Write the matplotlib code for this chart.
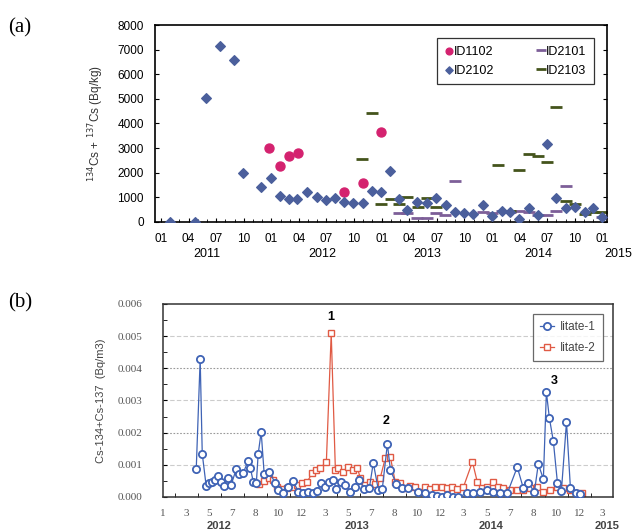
import matplotlib
matplotlib.use("Agg")
import matplotlib.pyplot as plt
import matplotlib.transforms as mtransforms
import numpy as np

### Data, panel (a): months counted from Jan 2011 (0 = 2011-01)

id1102_m = [11.8, 12.9, 13.9, 14.9, 19.9, 22.0, 23.9]
id1102_v = [3010, 2280, 2680, 2800, 1220, 1590, 3660]

id2102_m = [1.0, 3.7, 4.9, 6.4, 7.9, 8.9, 10.9, 12.0, 12.9, 13.9, 14.8, 15.9,
            17.0, 17.9, 18.9, 19.9, 20.9, 22.0, 22.9, 23.9, 24.9, 25.9, 26.8,
            27.8, 28.9, 29.9, 31.0, 32.0, 33.0, 33.9, 35.0, 36.0, 37.1, 38.0,
            38.9, 40.0, 41.0, 42.0, 43.0, 44.0, 45.0, 46.1, 47.0, 48.0]
id2102_v = [0, 0, 5050, 7150, 6580, 2000, 1420, 1790, 1060, 930, 930, 1220,
            1020, 890, 980, 800, 780, 770, 1260, 1210, 2080, 940, 490,
            810, 770, 980, 690, 410, 370, 330, 690, 240, 450, 410,
            120, 570, 280, 3170, 980, 570, 610, 410, 570, 200]

id2101_m = [25.9, 26.8, 27.8, 28.9, 29.9, 30.9, 32.0, 35.0, 36.0, 37.1, 37.9,
            38.9, 40.0, 41.0, 42.0, 43.0, 44.0, 48.0]
id2101_v = [370, 370, 160, 160, 370, 280, 1670, 410, 370, 450, 410,
            450, 410, 280, 280, 450, 1460, 200]

id2103_m = [21.9, 22.9, 23.9, 25.0, 25.9, 26.8, 27.9, 28.9, 29.9, 36.6, 37.9,
            38.9, 40.0, 41.0, 42.0, 43.0, 44.0, 45.0, 46.1, 47.0, 48.0]
id2103_v = [2560, 4430, 730, 940, 730, 1020, 610, 980, 610, 2320, 450,
            2110, 2760, 2680, 2440, 4680, 850, 730, 330, 410, 410]

a_month_labels = ["01", "04", "07", "10"]
a_years = ["2011", "2012", "2013", "2014", "2015"]

### Data, panel (b): position along the category axis (1 unit = 1 label)

b_tick_labels = ["1", "3", "5", "7", "8", "10", "12", "3", "5", "7", "8", "10",
                 "12", "3", "5", "7", "8", "10", "12", "3"]
b_years = ["2012", "2013", "2014", "2015"]

iitate1_x = [1.43, 1.60, 1.69, 1.86, 1.99, 2.12, 2.25, 2.38, 2.51, 2.64, 2.81,
             2.94, 3.16, 3.29, 3.46, 3.68, 3.77, 3.90, 4.03, 4.11, 4.24, 4.37,
             4.59, 4.85, 4.98, 5.19, 5.41, 5.63, 5.84, 6.06, 6.28, 6.49, 6.67,
             6.84, 7.01, 7.19, 7.36, 7.49, 7.71, 7.88, 8.10, 8.31, 8.48, 8.70,
             8.92, 9.09, 9.31, 9.48, 9.70, 9.83, 10.09, 10.35, 10.61, 11.04,
             11.34, 11.65, 11.86, 12.08, 12.29, 12.55, 12.77, 13.16, 13.42,
             13.72, 14.03, 14.29, 14.59, 14.89, 15.32, 15.58, 15.80, 16.06,
             16.23, 16.45, 16.58, 16.71, 16.88, 17.06, 17.23, 17.45, 17.62,
             17.84, 18.05]
iitate1_v = [0.00087, 0.00429, 0.00134, 0.00034, 0.00043, 0.00047, 0.00053,
             0.00065, 0.00047, 0.00034, 0.00059, 0.00037, 0.00087, 0.00071,
             0.00075, 0.00112, 0.00090, 0.00047, 0.00043, 0.00134, 0.00202,
             0.00071, 0.00078, 0.00043, 0.00022, 0.00012, 0.00031, 0.00050,
             0.00016, 0.00012, 0.00016, 0.00012, 0.00019, 0.00043, 0.00031,
             0.00047, 0.00053, 0.00025, 0.00047, 0.00037, 0.00016, 0.00031,
             0.00053, 0.00025, 0.00028, 0.00106, 0.00022, 0.00025, 0.00165,
             0.00084, 0.00040, 0.00028, 0.00028, 0.00016, 0.00012, 0.00006,
             0.00003, 0.00000, 0.00006, 0.00000, 0.00000, 0.00012, 0.00012,
             0.00016, 0.00022, 0.00016, 0.00012, 0.00012, 0.00093, 0.00028,
             0.00043, 0.00016, 0.00102, 0.00056, 0.00326, 0.00245, 0.00174,
             0.00043, 0.00019, 0.00233, 0.00028, 0.00012, 0.00009]

iitate2_x = [4.16, 4.37, 4.59, 4.76, 4.94, 5.15, 5.37, 5.58, 5.80, 6.02, 6.23,
             6.45, 6.62, 6.80, 7.06, 7.27, 7.45, 7.58, 7.79, 8.01, 8.23, 8.40,
             8.53, 8.74, 8.96, 9.18, 9.39, 9.61, 9.83, 10.04, 10.26, 10.48,
             10.69, 10.91, 11.13, 11.34, 11.56, 11.77, 12.08, 12.29, 12.51,
             12.73, 12.99, 13.38, 13.59, 13.81, 14.03, 14.29, 14.50, 14.72,
             15.02, 15.32, 15.58, 15.89, 16.19, 16.45, 16.75, 17.06, 17.32,
             17.62, 17.84, 18.14]
iitate2_v = [0.00040, 0.00050, 0.00059, 0.00053, 0.00031, 0.00025, 0.00028,
             0.00031, 0.00037, 0.00043, 0.00047, 0.00075, 0.00084, 0.00090,
             0.00109, 0.00509, 0.00084, 0.00090, 0.00078, 0.00093, 0.00084,
             0.00090, 0.00059, 0.00037, 0.00047, 0.00040, 0.00059, 0.00121,
             0.00124, 0.00047, 0.00043, 0.00028, 0.00034, 0.00031, 0.00016,
             0.00031, 0.00025, 0.00031, 0.00031, 0.00028, 0.00031, 0.00025,
             0.00031, 0.00109, 0.00047, 0.00028, 0.00031, 0.00047, 0.00031,
             0.00028, 0.00022, 0.00022, 0.00022, 0.00028, 0.00031, 0.00016,
             0.00022, 0.00031, 0.00028, 0.00022, 0.00012, 0.00012]

### Figure

fig = plt.figure(figsize=(6.35, 5.32), dpi=100)
plt.rcParams["font.family"] = ["Liberation Sans", "DejaVu Sans"]

# ---- panel (a)
ax = fig.add_axes([0.244, 0.583, 0.712, 0.370])
h1 = ax.scatter(id1102_m, id1102_v, marker="o", s=42, color="#d4226f",
                zorder=3, label="ID1102")
h2, = ax.plot(id2101_m, id2101_v, ls="none", marker="_", ms=9, mew=2.0,
              color="#7d5f98", label="ID2101")
h3 = ax.scatter(id2102_m, id2102_v, marker="D", s=24, color="#4b5f9c",
                zorder=3, label="ID2102")
h4, = ax.plot(id2103_m, id2103_v, ls="none", marker="_", ms=9, mew=2.0,
              color="#44541c", label="ID2103")

ax.set_xlim(-0.65, 48.5)
ax.set_ylim(0, 8000)
ax.set_yticks(np.arange(0, 8001, 1000))
ax.set_xticks(np.arange(0, 49, 3))
ax.set_xticklabels([a_month_labels[i % 4] for i in range(17)])
ax.set_xticks(np.arange(0, 49, 1), minor=True)
ax.tick_params(axis="both", direction="in", labelsize=8.5, length=3,
               right=True)
ax.tick_params(axis="y", pad=8)
ax.tick_params(axis="x", pad=8)
ax.tick_params(axis="x", which="minor", direction="in", length=2)
for s in ax.spines.values():
    s.set_linewidth(1.2)
ax.set_ylabel("$^{134}$Cs + $^{137}$Cs (Bq/kg)", fontsize=8.5,
              color="#333333", labelpad=8)

trans = mtransforms.blended_transform_factory(ax.transData, ax.transAxes)
for yr, xm in zip(a_years, [5.0, 17.5, 29.0, 41.0, 49.7]):
    ax.text(xm, -0.162, yr, transform=trans, ha="center", va="center",
            fontsize=9, clip_on=False)

leg = ax.legend([h1, h3, h2, h4], ["ID1102", "ID2102", "ID2101", "ID2103"],
                loc="upper right", ncol=2, fontsize=9, frameon=True,
                fancybox=False, edgecolor="black", handlelength=0.7,
                markerscale=0.75, handletextpad=0.05, columnspacing=3.4,
                borderpad=0.6, labelspacing=0.55,
                bbox_to_anchor=(0.985, 0.965))
leg.get_frame().set_linewidth(0.9)

fig.text(0.013, 0.947, "(a)", fontsize=15, family="Liberation Serif",
         va="center")

# ---- panel (b)
bx = fig.add_axes([0.257, 0.0658, 0.709, 0.363])
blue = "#3f63b5"
red = "#e05a44"
bx.plot(iitate1_x, iitate1_v, color=blue, lw=0.9, marker="o", ms=5.2,
        mfc="white", mec=blue, mew=1.3, label="Iitate-1", zorder=3)
bx.plot(iitate2_x, iitate2_v, color=red, lw=0.9, marker="s", ms=4.4,
        mfc="white", mec=red, mew=1.0, label="Iitate-2", zorder=2)

bx.set_xlim(0, 19.48)
bx.set_ylim(0, 0.006)
bx.set_yticks(np.arange(0, 0.0061, 0.001))
bx.set_yticklabels([f"{v:.3f}" for v in np.arange(0, 0.0061, 0.001)])
bx.set_yticks(np.arange(0, 0.0061, 0.0005), minor=True)
bx.set_xticks(np.arange(len(b_tick_labels)))
bx.set_xticklabels(b_tick_labels)
bx.set_xticks(np.arange(0, 19.5, 0.5), minor=True)
bx.tick_params(axis="both", which="both", direction="in", length=3,
               labelsize=8, labelcolor="#555555")
bx.tick_params(axis="y", pad=15)
bx.tick_params(axis="x", which="major", length=0, pad=9)
for lab in bx.get_xticklabels() + bx.get_yticklabels():
    lab.set_family("Liberation Serif")
for s in bx.spines.values():
    s.set_linewidth(1.1)
    s.set_color("#333333")
for yv in [0.001, 0.002, 0.003, 0.004, 0.005]:
    dark = yv in (0.002, 0.004)
    bx.axhline(yv, color="#999999" if dark else "#cccccc",
               ls=(0, (1.5, 1.5)) if dark else (0, (4, 2)), lw=0.8, zorder=0)

bx.set_ylabel("Cs-134+Cs-137  (Bq/m3)", fontsize=8, color="#444444",
              labelpad=8)

trans_b = mtransforms.blended_transform_factory(bx.transData, bx.transAxes)
for yr, xu in zip(b_years, [2.4, 8.4, 14.2, 19.2]):
    bx.text(xu, -0.15, yr, transform=trans_b, ha="center", va="center",
            fontsize=8, fontweight="bold", color="#444444", clip_on=False)

bx.text(7.27, 0.0056, "1", ha="center", va="center", fontsize=9,
        fontweight="bold")
bx.text(9.66, 0.00235, "2", ha="center", va="center", fontsize=9,
        fontweight="bold")
bx.text(16.9, 0.0036, "3", ha="center", va="center", fontsize=9,
        fontweight="bold")

bleg = bx.legend(loc="upper right", fontsize=8.5, frameon=True,
                 fancybox=False, edgecolor="#444444", handlelength=1.2,
                 handletextpad=0.5, borderpad=0.6, labelspacing=0.8,
                 bbox_to_anchor=(0.99, 0.98))
bleg.get_frame().set_linewidth(0.9)
for t in bleg.get_texts():
    t.set_color("#444444")

fig.text(0.013, 0.43, "(b)", fontsize=15, family="Liberation Serif",
         va="center")

fig.savefig("out.png", dpi=100)
